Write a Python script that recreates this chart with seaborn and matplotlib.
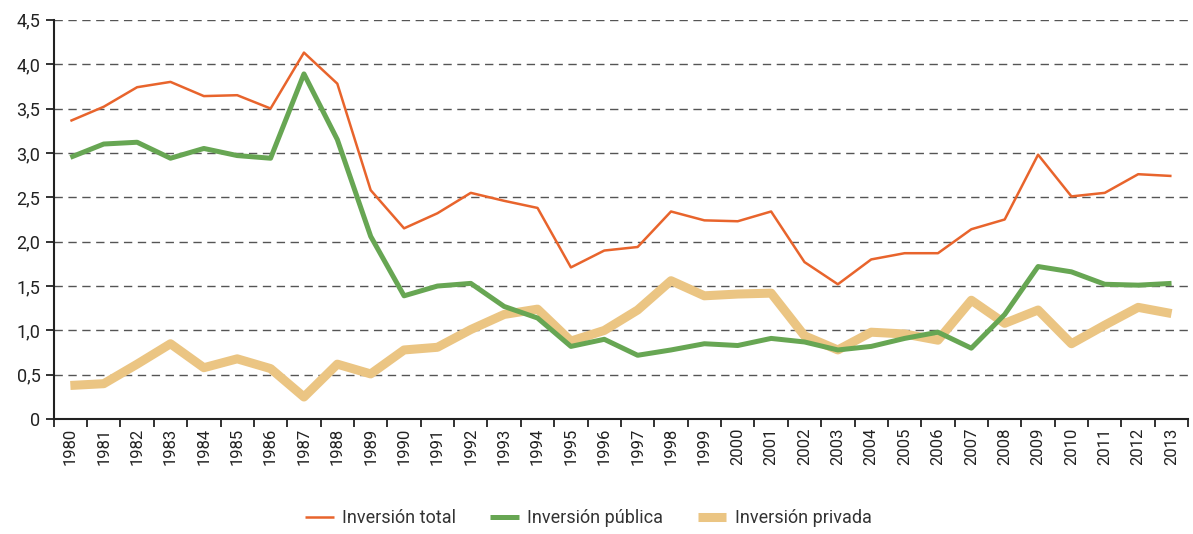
import numpy as np
import pandas as pd
import matplotlib
matplotlib.use("Agg")
import matplotlib.pyplot as plt
import seaborn as sns
from matplotlib.ticker import FixedLocator, FuncFormatter

years = list(range(1980, 2014))

total = [3.36, 3.52, 3.74, 3.80, 3.64, 3.65, 3.50, 4.13, 3.78, 2.58,
         2.15, 2.32, 2.55, 2.46, 2.38, 1.71, 1.90, 1.94, 2.34, 2.24,
         2.23, 2.34, 1.77, 1.52, 1.80, 1.87, 1.87, 2.14, 2.25, 2.98,
         2.51, 2.55, 2.76, 2.74]
publica = [2.95, 3.10, 3.12, 2.94, 3.05, 2.97, 2.94, 3.89, 3.15, 2.06,
           1.39, 1.50, 1.53, 1.27, 1.14, 0.82, 0.90, 0.72, 0.78, 0.85,
           0.83, 0.91, 0.87, 0.78, 0.82, 0.91, 0.98, 0.80, 1.18, 1.72,
           1.66, 1.52, 1.51, 1.53]
privada = [0.38, 0.40, 0.62, 0.85, 0.58, 0.68, 0.57, 0.25, 0.62, 0.51,
           0.78, 0.81, 1.01, 1.18, 1.24, 0.88, 1.00, 1.23, 1.56, 1.39,
           1.41, 1.42, 0.94, 0.78, 0.98, 0.96, 0.89, 1.34, 1.08, 1.23,
           0.85, 1.06, 1.26, 1.19]

series_names = ["Inversión total", "Inversión pública", "Inversión privada"]
yticks = [0, 0.5, 1.0, 1.5, 2.0, 2.5, 3.0, 3.5, 4.0, 4.5]

rows = []
for name, vals in zip(series_names, [total, publica, privada]):
    for i, (yr, v) in enumerate(zip(years, vals)):
        rows.append({"idx": i, "year": yr, "serie": name, "valor": v})
df = pd.DataFrame(rows)

sns.set_theme(style="white")
plt.rcParams['font.family'] = ['Roboto', 'DejaVu Sans']

fig, ax = plt.subplots(figsize=(11.93, 5.34), dpi=100)
fig.subplots_adjust(left=0.045, right=0.996, top=0.963, bottom=0.215)

palette = {"Inversión total": "#E8642C",
           "Inversión pública": "#67A653",
           "Inversión privada": "#EBC583"}
widths = {"Inversión total": 1.8, "Inversión pública": 3.6, "Inversión privada": 6.5}

# privada first so it sits at the back
order = ["Inversión privada", "Inversión pública", "Inversión total"]
for name in order:
    sub = df[df["serie"] == name]
    sns.lineplot(data=sub, x="idx", y="valor", color=palette[name],
                 linewidth=widths[name], ax=ax, label=name,
                 solid_capstyle="butt")

ax.set_xlim(-0.5, len(years) - 0.5)
ax.set_ylim(0, 4.5)

# dashed horizontal gridlines
for y in yticks[1:]:
    ax.axhline(y, color="#555555", linestyle=(0, (6, 4)), linewidth=1.0, zorder=0)

ax.set_yticks(yticks)
ax.yaxis.set_major_formatter(FuncFormatter(
    lambda v, p: "0" if v == 0 else f"{v:.1f}".replace(".", ",")))

ax.set_xticks(range(len(years)))
ax.set_xticklabels([str(y) for y in years], rotation=90)
ax.xaxis.set_minor_locator(FixedLocator(np.arange(-0.5, len(years), 1.0)))
ax.tick_params(axis="x", which="major", length=0, labelsize=12, pad=6, colors="#222222")
ax.tick_params(axis="x", which="minor", length=6, width=1.3, color="#222222", bottom=True)
ax.tick_params(axis="y", which="major", length=6, width=1.3, color="#222222",
               labelsize=13, left=True, colors="#222222")

for s in ["top", "right"]:
    ax.spines[s].set_visible(False)
for s in ["left", "bottom"]:
    ax.spines[s].set_color("#222222")
    ax.spines[s].set_linewidth(1.5)

ax.set_xlabel("")
ax.set_ylabel("")

handles, labels = ax.get_legend_handles_labels()
lab2h = dict(zip(labels, handles))
ax.get_legend().remove()
fig.legend([lab2h[n] for n in series_names], series_names,
           loc="center", bbox_to_anchor=(0.493, 0.03), ncol=3,
           frameon=False, fontsize=13, handlelength=1.6, columnspacing=1.9,
           handletextpad=0.45, labelcolor="#333333")

plt.savefig("out.png", dpi=100)
